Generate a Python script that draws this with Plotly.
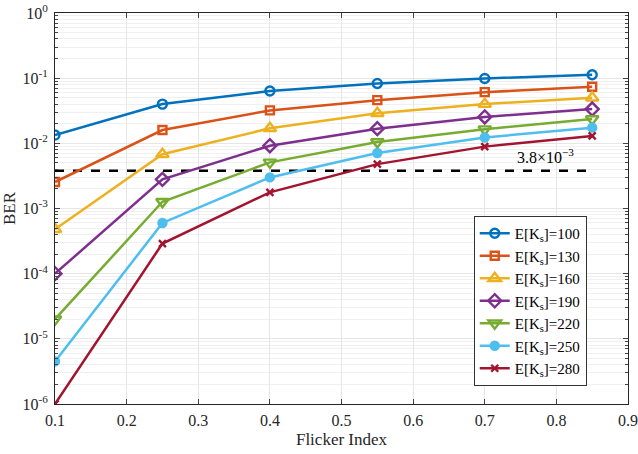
import math
import plotly.graph_objects as go

flicker = [0.1, 0.25, 0.4, 0.55, 0.7, 0.85]
ks_labels = ["100", "130", "160", "190", "220", "250", "280"]
ber_100 = [0.0134, 0.040, 0.0635, 0.083, 0.099, 0.113]
ber_130 = [0.00255, 0.016, 0.032, 0.046, 0.061, 0.074]
ber_160 = [4.8e-4, 0.0068, 0.017, 0.0289, 0.040, 0.050]
ber_190 = [1.0e-4, 0.0028, 0.0092, 0.0168, 0.0254, 0.0336]
ber_220 = [2.0e-5, 0.00127, 0.0051, 0.0105, 0.0165, 0.0236]
ber_250 = [4.5e-6, 6.0e-4, 0.0030, 0.0071, 0.0123, 0.0174]
ber_280 = [1.0e-6, 2.9e-4, 0.00177, 0.0048, 0.0089, 0.0130]
threshold = 3.8e-3
thr_x = [0.1, 0.85]
thr_label = "3.8×10<sup>−3</sup>"
ytick_vals = [1e-6, 1e-5, 1e-4, 1e-3, 1e-2, 1e-1, 1]
ytick_text = ["10<sup>-6</sup>", "10<sup>-5</sup>", "10<sup>-4</sup>", "10<sup>-3</sup>",
              "10<sup>-2</sup>", "10<sup>-1</sup>", "10<sup>0</sup>"]
xtick_vals = [0.1, 0.2, 0.3, 0.4, 0.5, 0.6, 0.7, 0.8, 0.9]

series = [ber_100, ber_130, ber_160, ber_190, ber_220, ber_250, ber_280]
colors = ["#0072BD", "#D95319", "#EDB120", "#7E2F8E", "#77AC30", "#4DBEEE", "#A2142F"]
symbols = ["circle-open", "square-open", "triangle-up-open", "diamond-open",
           "triangle-down-open", "circle", "x-thin-open"]
sizes = [9, 8, 11, 10, 11, 8, 7]

FONT = "Liberation Serif"
fig = go.Figure()

fig.add_trace(go.Scatter(x=thr_x, y=[threshold, threshold], mode="lines",
                         line=dict(color="black", width=2.5, dash="dash"),
                         showlegend=False, hoverinfo="skip"))

for lab, ys, c, s, sz in zip(ks_labels, series, colors, symbols, sizes):
    fig.add_trace(go.Scatter(
        x=flicker, y=ys, mode="lines+markers",
        name=f"E[K<sub>s</sub>]={lab}",
        line=dict(color=c, width=2.5),
        marker=dict(symbol=s, size=sz, color=c, line=dict(color=c, width=2.4)),
    ))

fig.add_annotation(x=0.785, y=math.log10(threshold) + 0.22, xref="x", yref="y",
                   text=thr_label, showarrow=False,
                   font=dict(family=FONT, size=16, color="black"))

fig.update_layout(
    width=638, height=454,
    margin=dict(l=55, r=10, t=13, b=50),
    paper_bgcolor="white", plot_bgcolor="white",
    font=dict(family=FONT, size=16, color="#262626"),
    legend=dict(x=0.928, y=0.046, xanchor="right", yanchor="bottom",
                bgcolor="white", bordercolor="#333", borderwidth=1,
                font=dict(family=FONT, size=15, color="black"),
                itemwidth=30, tracegroupgap=0),
)

fig.update_xaxes(
    range=[0.1, 0.9], tickvals=xtick_vals, ticks="inside", ticklen=5,
    showgrid=True, gridcolor="#e6e6e6", gridwidth=1,
    showline=True, linecolor="#262626", linewidth=1, mirror="ticks",
    zeroline=False, tickfont=dict(family=FONT, size=16, color="#262626"),
    ticklabelstandoff=2, automargin=False,
    title=dict(text="Flicker Index", font=dict(family=FONT, size=17, color="#262626"), standoff=4),
)
fig.update_yaxes(
    type="log", range=[-6, 0], tickvals=ytick_vals, ticktext=ytick_text,
    ticks="inside", ticklen=5, tickfont=dict(family=FONT, size=16, color="#262626"),
    ticklabelstandoff=3, automargin=False,
    showgrid=True, gridcolor="#e6e6e6", gridwidth=1,
    showline=True, linecolor="#262626", linewidth=1, mirror="ticks",
    minor=dict(ticks="inside", ticklen=3, showgrid=True, gridcolor="#f0f0f0", dtick="D1"),
    title=dict(text="BER", font=dict(family=FONT, size=17, color="#262626"), standoff=2),
)

fig.write_html("out.html")
